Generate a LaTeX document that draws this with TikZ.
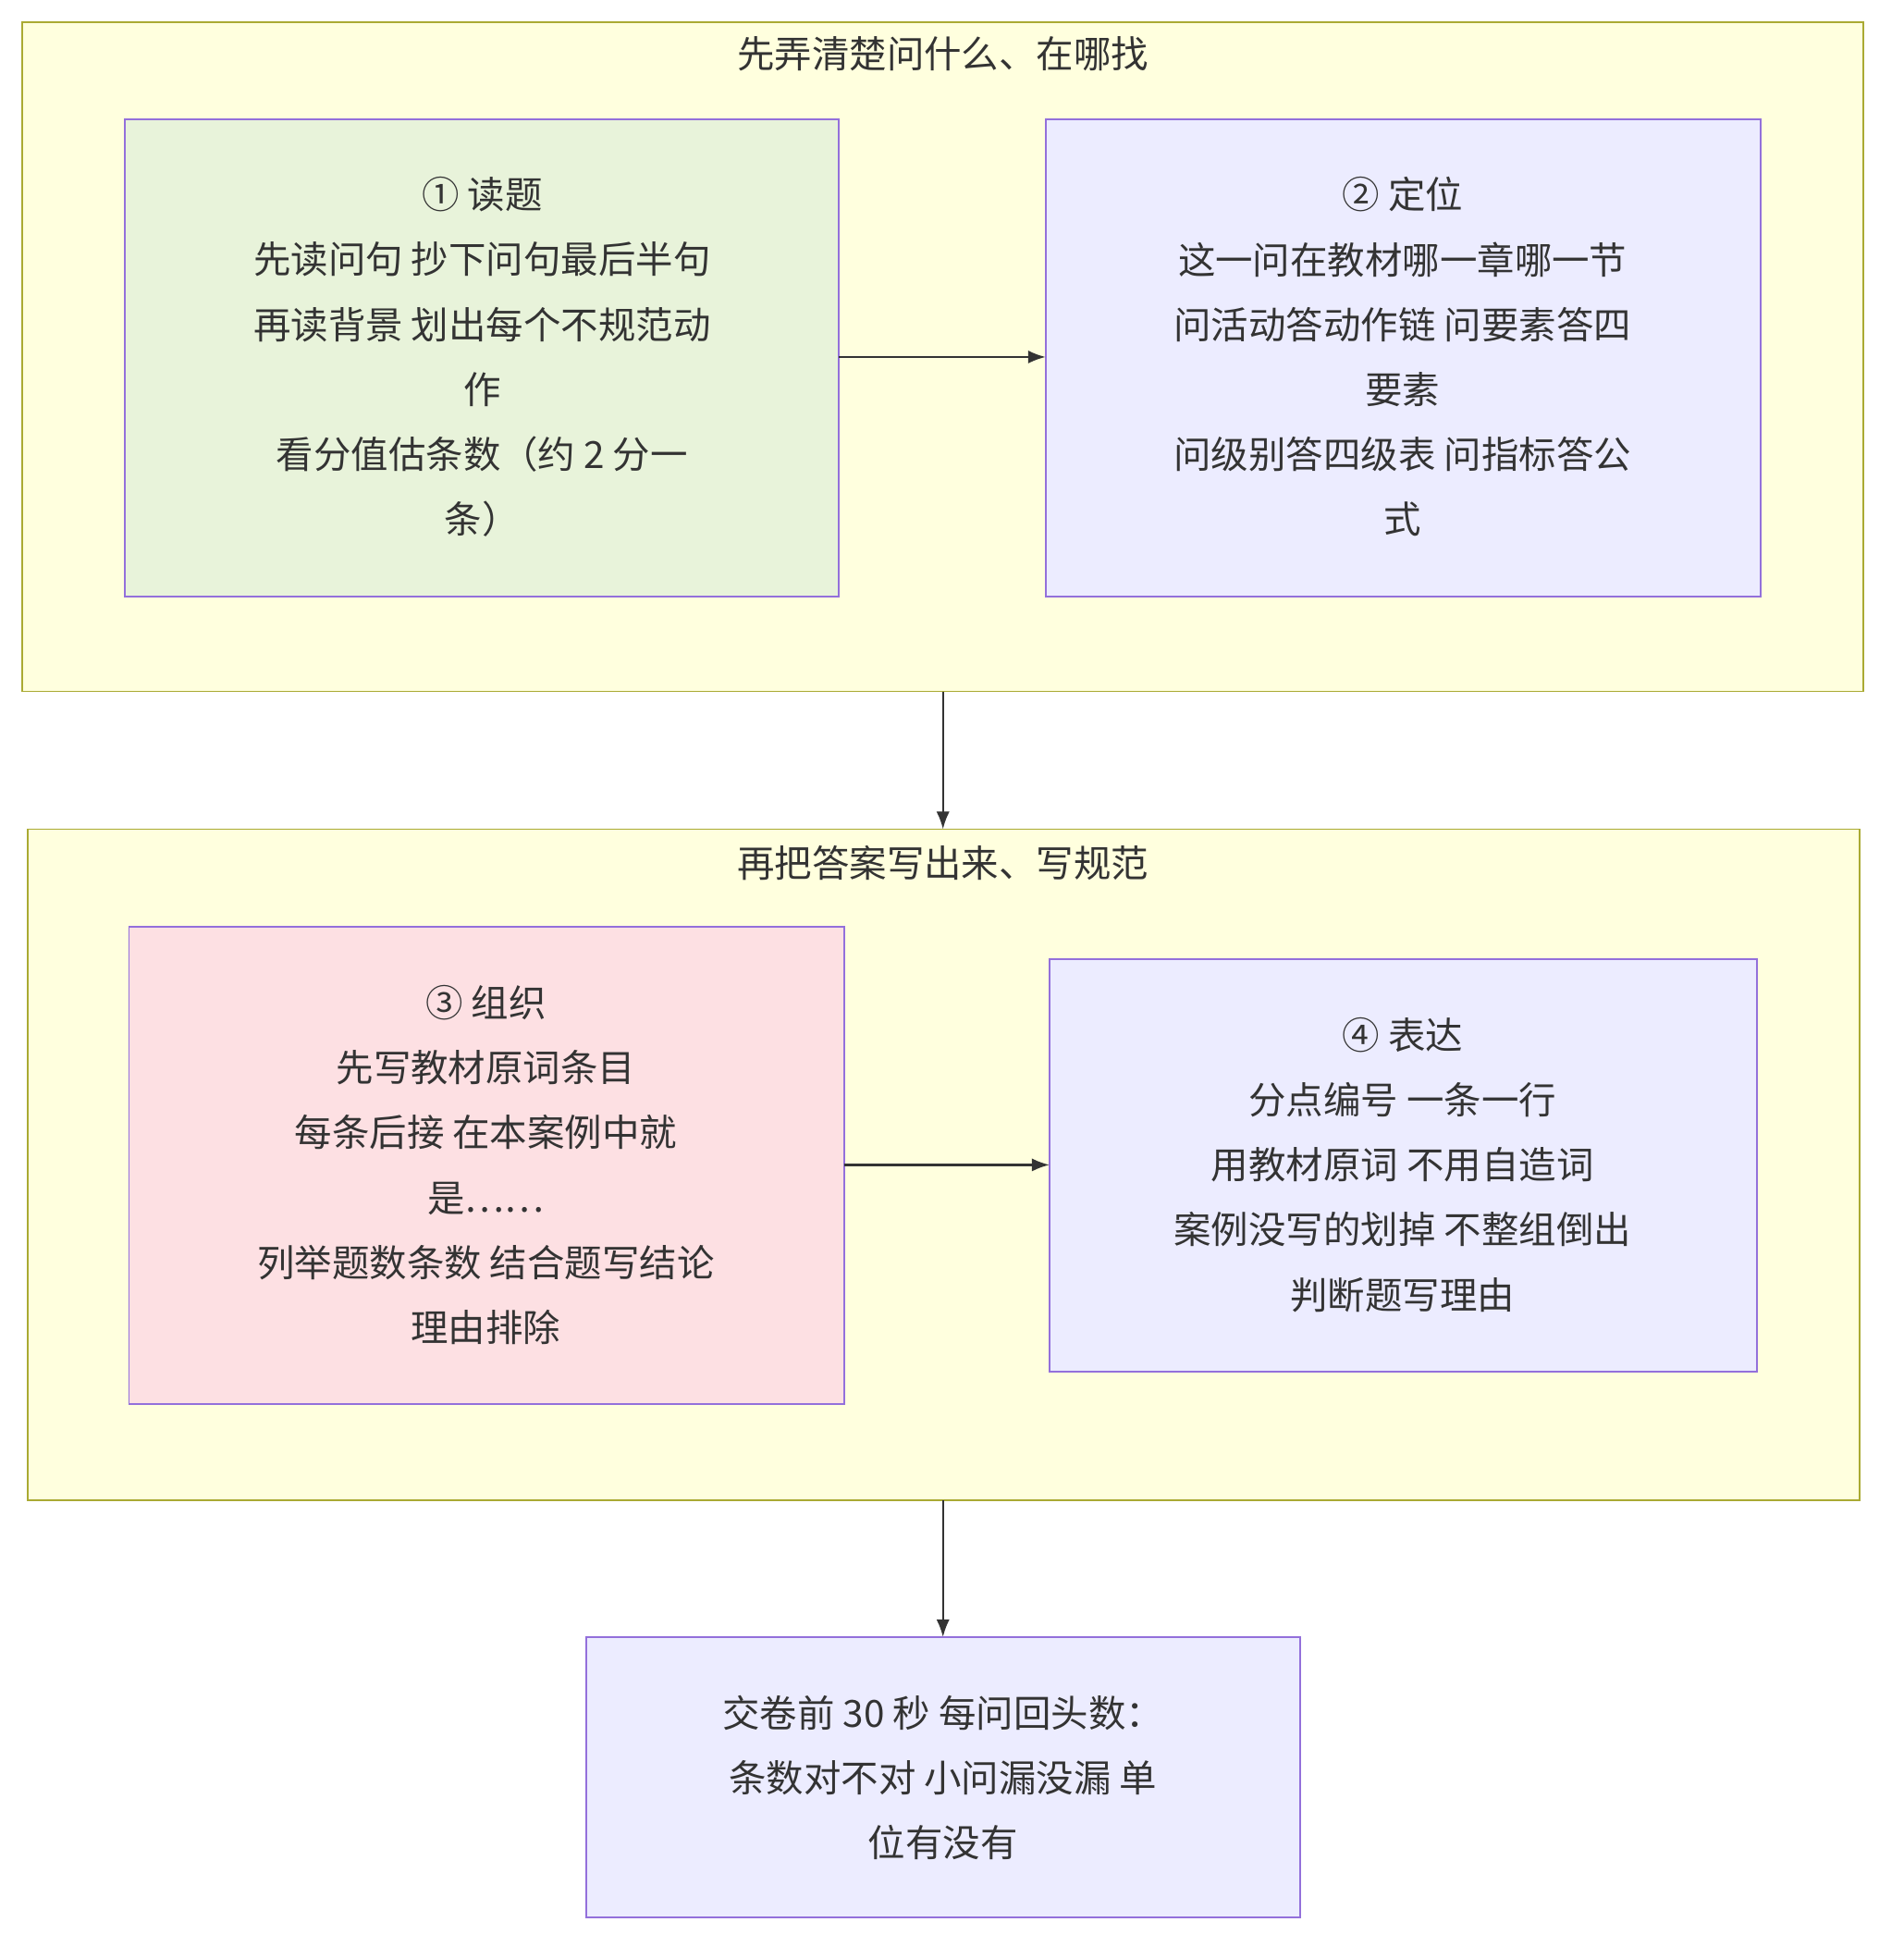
\documentclass[tikz,border=0pt]{standalone}
\usepackage{fontspec}
\setmainfont{Noto Sans CJK SC}
\usetikzlibrary{arrows.meta}
\definecolor{clf}{HTML}{FFFFDE}\definecolor{cls}{HTML}{AAAA33}
\definecolor{nf}{HTML}{ECECFF}\definecolor{ns}{HTML}{9370DB}
\definecolor{gf}{HTML}{E8F3DA}\definecolor{pf}{HTML}{FDE0E3}
\definecolor{tx}{HTML}{333333}
\begin{document}
\begin{tikzpicture}[x=0.02cm,y=-0.02cm,
 cl/.style={draw=cls,fill=clf,line width=0.8pt},
 box/.style={draw=ns,fill=nf,line width=0.8pt},
 txt/.style={text=tx,align=center,font=\fontsize{17}{29.5}\selectfont},
 arr/.style={-{Latex[length=8pt,width=6pt]},draw=tx,line width=0.9pt}]
\useasboundingbox (0,0) rectangle (1520,1564);
\draw[cl] (18,18) rectangle (1488,552);
\node[txt] (t1) at (753,43) {先弄清楚问什么、在哪找};
\draw[box,fill=gf] (100,95) rectangle (670,476);
\node[txt] (b1) at (385,285) {① 读题\\先读问句 抄下问句最后半句\\再读背景 划出每个不规范动\\作\\看分值估条数（约 2 分一\\条）};
\draw[box] (835,95) rectangle (1406,476);
\node[txt] (b2) at (1120,285) {② 定位\\这一问在教材哪一章哪一节\\问活动答动作链 问要素答四\\要素\\问级别答四级表 问指标答公\\式};
\coordinate (a1) at (670,285); \coordinate (a2) at (835,285);
\draw[arr] (a1) -- (a2);
\coordinate (c1) at (753,552); \coordinate (c2) at (753,662);
\draw[arr] (c1) -- (c2);
\draw[cl] (22,662) rectangle (1485,1198);
\node[txt] (t2) at (753,689) {再把答案写出来、写规范};
\draw[box,fill=pf] (103,740) rectangle (674,1121);
\node[txt] (b3) at (388,930) {③ 组织\\先写教材原词条目\\每条后接 在本案例中就\\是……\\列举题数条数 结合题写结论\\理由排除};
\draw[box] (838,766) rectangle (1403,1095);
\node[txt] (b4) at (1120,930) {④ 表达\\分点编号 一条一行\\用教材原词 不用自造词\\案例没写的划掉 不整组倒出\\判断题写理由};
\coordinate (a3) at (674,930); \coordinate (a4) at (838,930);
\draw[arr] (a3) -- (a4);
\coordinate (c3) at (753,1198); \coordinate (c4) at (753,1307);
\draw[arr] (c3) -- (c4);
\draw[box] (468,1307) rectangle (1038,1531);
\node[txt] (b5) at (753,1419) {交卷前 30 秒 每问回头数：\\条数对不对 小问漏没漏 单\\位有没有};
\end{tikzpicture}
\end{document}
